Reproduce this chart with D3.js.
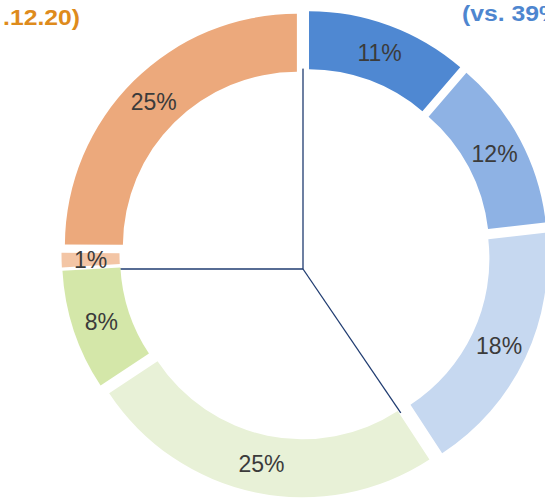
<!DOCTYPE html>
<html lang="en">
 <head>
  <title>Doughnut share</title>
<meta charset="utf-8">

<!-- Load d3.js -->
<script src="https://d3js.org/d3.v7.min.js"></script>

<style>
	body {
		margin: 0;
		font-family: 'Liberation Sans', Arial, sans-serif;
	}
	.slicelabel {
		font-size: 23px;
		fill: #3b3b3b;
	}
	.title {
		font-size: 21.5px;
		font-weight: bold;
	}
</style>
</head>
<body>
<div id="my_dataviz"></div>

<script>

// slice values (%)
var sliceValues = [11.3, 11.9, 17.6, 24.9, 8.4, 1.0, 24.9];
var sliceColors = ["#4F88D2", "#8EB2E4", "#C6D8F0", "#E8F1D7", "#D4E7A9", "#F3C5A5", "#ECA97C"];

// inner pie (group split), only its borders show
var groupValues = [40.5, 34.5, 25.0];

var titleLeft = ".12.20)";
var titleRight = "(vs. 39%)";

var width = 545,
    height = 498;

var ring = { cx: 305, cy: 254, inner: 174, outer: 232, explode: 11.5 };
var pieCenter = { cx: 303, cy: 269 };

var svg = d3.select("#my_dataviz")
  .append("svg")
    .attr("width", width)
    .attr("height", height);

var pie = d3.pie().sort(null).value(function(d) { return d; });

var arc = d3.arc()
  .innerRadius(ring.inner)
  .outerRadius(ring.outer);

function midAngle(d) { return (d.startAngle + d.endAngle) / 2; }

// clip so the group lines only show inside the hole
svg.append("clipPath")
  .attr("id", "hole")
  .append("circle")
    .attr("cx", ring.cx)
    .attr("cy", ring.cy)
    .attr("r", ring.inner + ring.explode);

var groupArcs = pie(groupValues);

svg.append("g")
  .attr("clip-path", "url(#hole)")
  .selectAll("line")
  .data(groupArcs)
  .enter()
  .append("line")
    .attr("x1", pieCenter.cx)
    .attr("y1", pieCenter.cy)
    .attr("x2", function(d) { return pieCenter.cx + 300 * Math.sin(d.startAngle); })
    .attr("y2", function(d) { return pieCenter.cy - 300 * Math.cos(d.startAngle); })
    .attr("stroke", "#1F3B70")
    .attr("stroke-width", 1.3);

var slices = svg.append("g")
  .attr("transform", "translate(" + ring.cx + "," + ring.cy + ")")
  .selectAll("g.slice")
  .data(pie(sliceValues))
  .enter()
  .append("g")
    .attr("class", "slice")
    .attr("transform", function(d) {
      var a = midAngle(d);
      return "translate(" + (ring.explode * Math.sin(a)) + "," + (-ring.explode * Math.cos(a)) + ")";
    });

slices.append("path")
  .attr("d", arc)
  .style("fill", function(d, i) { return sliceColors[i]; });

slices.append("text")
  .attr("class", "slicelabel")
  .attr("text-anchor", "middle")
  .attr("dy", "0.36em")
  .attr("transform", function(d) { return "translate(" + arc.centroid(d) + ")"; })
  .text(function(d) { return Math.round(d.value) + "%"; });

// titles, cut by the picture edge
svg.append("text")
  .attr("class", "title")
  .attr("text-anchor", "end")
  .attr("transform", "translate(80,24.5) scale(1.15,1)")
  .style("fill", "#DE8B1C")
  .text(titleLeft);

svg.append("text")
  .attr("class", "title")
  .attr("transform", "translate(462,20.5) scale(1.15,1)")
  .style("fill", "#4E86CF")
  .text(titleRight);

</script>
</body>
</html>
